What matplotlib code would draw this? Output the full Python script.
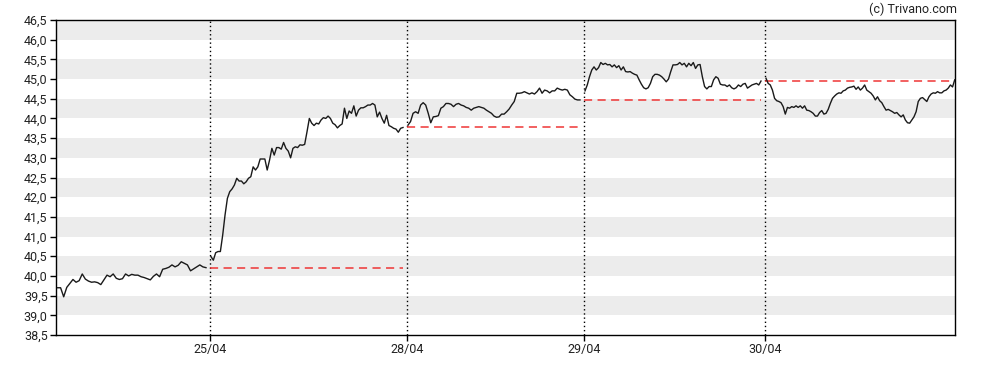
import matplotlib
matplotlib.use("Agg")
import matplotlib.pyplot as plt
import numpy as np

plt.rcParams['font.family'] = ['Roboto', 'DejaVu Sans']

# intraday prices, one list per session
day1 = [39.70, 39.70, 39.47, 39.71, 39.81, 39.91, 39.84, 39.88, 40.05, 39.92,
        39.87, 39.84, 39.85, 39.83, 39.78, 39.90, 40.02, 39.98, 40.05, 39.94,
        39.91, 39.93, 40.05, 40.00, 40.04, 40.02, 40.02, 39.98, 39.96, 39.93,
        39.90, 39.99, 40.05, 39.98, 40.17, 40.19, 40.22, 40.28, 40.23, 40.27,
        40.36, 40.32, 40.28, 40.13, 40.18, 40.23, 40.28, 40.23, 40.21]
day2 = [40.49, 40.40, 40.59, 40.62, 40.62, 41.04, 41.55, 41.97, 42.14, 42.21,
        42.31, 42.48, 42.41, 42.41, 42.34, 42.39, 42.48, 42.52, 42.77, 42.69,
        42.77, 42.97, 42.97, 42.97, 42.69, 42.94, 43.24, 43.07, 43.26, 43.26,
        43.22, 43.39, 43.24, 43.17, 43.00, 43.24, 43.28, 43.26, 43.33, 43.32,
        43.34, 43.66, 44.00, 43.88, 43.82, 43.88, 43.86, 43.96, 44.02, 44.00,
        44.06, 44.00, 43.88, 43.84, 43.76, 43.82, 43.86, 44.26, 44.00, 44.19,
        44.13, 44.32, 44.06, 44.21, 44.27, 44.27, 44.30, 44.34, 44.34, 44.38,
        44.34, 44.04, 44.16, 44.00, 43.88, 44.08, 43.82, 43.79, 43.75, 43.73,
        43.65, 43.75, 43.77]
day3 = [43.83, 43.92, 44.13, 44.17, 44.13, 44.34, 44.40, 44.34, 44.13, 43.89,
        44.04, 44.05, 44.07, 44.26, 44.30, 44.38, 44.38, 44.36, 44.30, 44.36,
        44.38, 44.34, 44.32, 44.28, 44.26, 44.21, 44.26, 44.28, 44.30, 44.28,
        44.26, 44.21, 44.17, 44.13, 44.06, 44.03, 44.04, 44.11, 44.11, 44.17,
        44.24, 44.34, 44.43, 44.64, 44.64, 44.65, 44.68, 44.65, 44.62, 44.65,
        44.62, 44.68, 44.77, 44.64, 44.72, 44.70, 44.65, 44.70, 44.70, 44.77,
        44.74, 44.72, 44.74, 44.72, 44.60, 44.55, 44.49, 44.47, 44.47]
day4 = [44.70, 44.85, 45.06, 45.23, 45.31, 45.23, 45.29, 45.42, 45.37, 45.40,
        45.36, 45.37, 45.31, 45.36, 45.29, 45.34, 45.23, 45.31, 45.19, 45.18,
        45.19, 45.15, 45.12, 45.10, 44.98, 44.87, 44.78, 44.75, 44.78, 44.89,
        45.06, 45.12, 45.12, 45.10, 45.06, 45.00, 44.93, 45.00, 45.19, 45.36,
        45.36, 45.37, 45.42, 45.36, 45.40, 45.31, 45.40, 45.34, 45.42, 45.27,
        45.36, 45.37, 45.06, 44.81, 44.75, 44.81, 44.81, 44.98, 45.06, 45.02,
        44.87, 44.85, 44.85, 44.81, 44.85, 44.78, 44.75, 44.78, 44.85, 44.81,
        44.87, 44.89, 44.77, 44.81, 44.85, 44.87, 44.89, 44.85, 44.95]
day5 = [45.02, 44.89, 44.85, 44.72, 44.51, 44.45, 44.43, 44.40, 44.30, 44.11,
        44.28, 44.26, 44.30, 44.28, 44.32, 44.28, 44.32, 44.26, 44.32, 44.21,
        44.20, 44.17, 44.13, 44.06, 44.06, 44.15, 44.20, 44.11, 44.13, 44.23,
        44.38, 44.51, 44.57, 44.62, 44.65, 44.64, 44.70, 44.72, 44.77, 44.79,
        44.80, 44.82, 44.74, 44.80, 44.72, 44.77, 44.85, 44.72, 44.68, 44.64,
        44.57, 44.47, 44.55, 44.45, 44.40, 44.30, 44.21, 44.23, 44.20, 44.17,
        44.13, 44.15, 44.09, 44.04, 44.09, 43.96, 43.89, 43.88, 43.96, 44.04,
        44.17, 44.43, 44.51, 44.53, 44.48, 44.43, 44.55, 44.62, 44.65, 44.64,
        44.68, 44.65, 44.65, 44.70, 44.72, 44.77, 44.85, 44.80, 44.98]

days = [day1, day2, day3, day4, day5]
day_labels = [None, '25/04', '28/04', '29/04', '30/04']
# relative length of each session on the time axis
session_len = [154, 197, 177, 181, 190]

yticks = np.arange(38.5, 46.51, 0.5)

fig = plt.figure(figsize=(9.88, 3.70), dpi=100)
ax = fig.add_axes([56 / 988, 35 / 370, 899 / 988, 315 / 370])

# alternating grey bands
for lo in np.arange(39.0, 46.5, 1.0):
    ax.axhspan(lo, lo + 0.5, color='#ececec', lw=0, zorder=0)

starts = np.concatenate([[0], np.cumsum(session_len)[:-1]])
for i, (prices, start, length) in enumerate(zip(days, starts, session_len)):
    first = start + (1.5 if i == 0 else 1.0)
    last = start + length - (0.3 if i == len(days) - 1 else 4.0)
    x = np.linspace(first, last, len(prices))
    ax.plot(x, prices, color='#1a1a1a', lw=1.0, zorder=3)
    if i > 0:
        ax.axvline(start, color='black', lw=1.0, ls=(0, (1, 2)), zorder=2)
        prev_close = days[i - 1][-1]
        ax.plot([start, start + length - 4.0], [prev_close, prev_close],
                color='#ee2a2a', alpha=0.8, lw=1.3, ls=(0, (4.5, 3)), zorder=2)

ax.set_xlim(0, sum(session_len))
ax.set_ylim(38.5, 46.5)
ax.set_yticks(yticks)
ax.set_yticklabels([f'{v:.1f}'.replace('.', ',') for v in yticks])
ax.set_xticks(starts[1:])
ax.set_xticklabels(day_labels[1:])
ax.tick_params(axis='both', direction='out', length=4, width=1,
               labelsize=9, labelcolor='#222222', pad=2)
for sp in ax.spines.values():
    sp.set_linewidth(1.0)
    sp.set_color('black')

fig.text(957 / 988, 1 - 9 / 370, '(c) Trivano.com', ha='right', va='center',
         fontsize=9, color='#222222')

fig.savefig('out.png', dpi=100)
